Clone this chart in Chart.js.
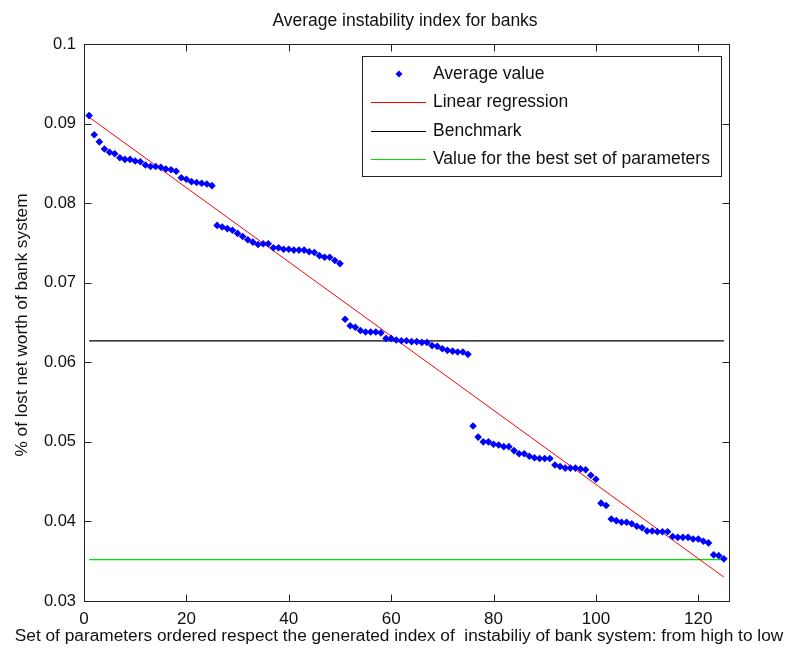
<!DOCTYPE html>
<html>
<head>
<meta charset="utf-8">
<script src="https://cdn.jsdelivr.net/npm/chart.js@4/dist/chart.umd.min.js"></script>
<style>
html,body{margin:0;padding:0;background:#fff;}
#wrap{width:799px;height:661px;position:relative;}
</style>
</head>
<body>
<div id="wrap"><canvas id="c" width="799" height="661"></canvas></div>
<script>
// ---- data ----
const avgValues = [
 0.0910,0.0886,0.0877,0.0868,0.0864,0.0862,0.0857,0.0855,0.0855,0.0853,
 0.0852,0.0848,0.0846,0.0846,0.0845,0.0843,0.0842,0.0840,0.0832,0.0830,
 0.0827,0.0826,0.0825,0.0824,0.0822,
 0.0772,0.0770,0.0768,0.0766,0.0762,0.0758,0.0754,0.0751,0.0748,0.0749,
 0.0749,0.0744,0.0744,0.0742,0.0742,0.0741,0.0741,0.0741,0.0739,0.0738,
 0.0734,0.0732,0.0732,0.0728,0.0724,
 0.0654,0.0646,0.0644,0.0640,0.0638,0.0638,0.0638,0.0637,0.0630,0.0630,
 0.0628,0.0627,0.0627,0.0626,0.0626,0.0625,0.0625,0.0621,0.0620,0.0617,
 0.0615,0.0614,0.0613,0.0613,0.0610,
 0.0520,0.0506,0.0500,0.0500,0.0497,0.0496,0.0494,0.0494,0.0489,0.0485,
 0.0485,0.0482,0.0480,0.0479,0.0479,0.0479,0.0471,0.0469,0.0467,0.0467,
 0.0467,0.0466,0.0465,0.0458,0.0453,
 0.0423,0.0420,0.0403,0.0401,0.0399,0.0399,0.0397,0.0394,0.0392,0.0388,
 0.0388,0.0387,0.0387,0.0387,0.0381,0.0380,0.0380,0.0380,0.0378,0.0378,
 0.0375,0.0373,0.0358,0.0357,0.0353
];
const lineX = [1, 125];
const regressionY = [0.0908, 0.0330];
const benchmarkY = [0.0627, 0.0627];
const bestY = [0.0352, 0.0352];
const xTicks = [0, 20, 40, 60, 80, 100, 120];
const xTickLabels = ["0", "20", "40", "60", "80", "100", "120"];
const yTicks = [0.03, 0.04, 0.05, 0.06, 0.07, 0.08, 0.09, 0.1];
const yTickLabels = ["0.03", "0.04", "0.05", "0.06", "0.07", "0.08", "0.09", "0.1"];
const seriesNames = ["Average value", "Linear regression", "Benchmark", "Value for the best set of parameters"];
const titleText = "Average instability index for banks";
const xTitle = "Set of parameters ordered respect the generated index of  instabiliy of bank system: from high to low";
const yTitle = "% of lost net worth of bank system";

const FONT = "'Liberation Sans', Arial, sans-serif";

const avgPoints = avgValues.map((v, i) => ({x: i + 1, y: v}));
const toPts = ys => lineX.map((x, i) => ({x: x, y: ys[i]}));

const decor = {
  id: 'decor',
  afterDraw(chart) {
    const ctx = chart.ctx;
    const a = chart.chartArea;
    const xs = chart.scales.x, ys = chart.scales.y;
    ctx.save();
    // box
    ctx.strokeStyle = '#222';
    ctx.lineWidth = 1;
    const L = Math.round(a.left) + 0.5, R = Math.round(a.right) + 0.5;
    const T = Math.round(a.top) + 0.5, B = Math.round(a.bottom) + 0.5;
    ctx.strokeRect(L, T, R - L, B - T);
    // inward ticks
    const tl = 7;
    ctx.beginPath();
    xTicks.forEach(v => {
      const px = Math.round(xs.getPixelForValue(v)) + 0.5;
      ctx.moveTo(px, B); ctx.lineTo(px, B - tl);
      ctx.moveTo(px, T); ctx.lineTo(px, T + tl);
    });
    yTicks.forEach(v => {
      const py = Math.round(ys.getPixelForValue(v)) + 0.5;
      ctx.moveTo(L, py); ctx.lineTo(L + tl, py);
      ctx.moveTo(R, py); ctx.lineTo(R - tl, py);
    });
    ctx.stroke();

    // titles
    ctx.fillStyle = '#111';
    ctx.textAlign = 'center';
    ctx.textBaseline = 'middle';
    ctx.font = '17.5px ' + FONT;
    ctx.fillText(titleText, 405, 21);
    ctx.font = '17.3px ' + FONT;
    ctx.fillText(xTitle, 399, 636);
    ctx.save();
    ctx.translate(22, 325);
    ctx.rotate(-Math.PI / 2);
    ctx.fillText(yTitle, 0, 0);
    ctx.restore();

    // legend
    const bx = 362.5, by = 56.5, bw = 359, bh = 120;
    ctx.fillStyle = '#fff';
    ctx.fillRect(bx, by, bw, bh);
    ctx.strokeStyle = '#222';
    ctx.strokeRect(bx, by, bw, bh);
    const rows = [74, 102, 131, 159];
    ctx.textAlign = 'left';
    ctx.font = '17.5px ' + FONT;
    chart.data.datasets.forEach((ds, i) => {
      const yy = rows[i];
      if (i === 0) {
        ctx.fillStyle = ds.backgroundColor;
        ctx.beginPath();
        ctx.moveTo(399, yy - 3.5); ctx.lineTo(402.5, yy); ctx.lineTo(399, yy + 3.5); ctx.lineTo(395.5, yy);
        ctx.closePath(); ctx.fill();
      } else {
        ctx.strokeStyle = ds.borderColor;
        ctx.lineWidth = 1;
        ctx.beginPath();
        ctx.moveTo(371, Math.round(yy) + 0.5); ctx.lineTo(426, Math.round(yy) + 0.5);
        ctx.stroke();
      }
      ctx.fillStyle = '#111';
      ctx.fillText(seriesNames[i], 433, yy);
    });
    ctx.restore();
  }
};

new Chart(document.getElementById('c'), {
  type: 'scatter',
  data: {
    datasets: [
      {label: seriesNames[0], data: avgPoints, backgroundColor: '#0000ff', borderColor: '#0000ff',
       pointStyle: 'rectRot', pointRadius: 3.8, pointBorderWidth: 0, showLine: false},
      {label: seriesNames[1], data: toPts(regressionY), borderColor: '#ff0000', backgroundColor: '#ff0000',
       showLine: true, pointRadius: 0, borderWidth: 1},
      {label: seriesNames[2], data: toPts(benchmarkY), borderColor: '#000000', backgroundColor: '#000000',
       showLine: true, pointRadius: 0, borderWidth: 1.2},
      {label: seriesNames[3], data: toPts(bestY), borderColor: '#00e000', backgroundColor: '#00e000',
       showLine: true, pointRadius: 0, borderWidth: 1.2}
    ]
  },
  options: {
    responsive: false,
    animation: false,
    layout: {padding: {top: 44, right: 70, left: 0, bottom: 0}},
    plugins: {legend: {display: false}, title: {display: false}, tooltip: {enabled: false}},
    scales: {
      x: {
        type: 'linear', min: 0, max: 126,
        grid: {display: false, drawTicks: false},
        border: {display: false},
        afterFit(s) { s.height = 60; },
        afterBuildTicks(s) { s.ticks = xTicks.map(v => ({value: v})); },
        ticks: {
          padding: 8, color: '#111', font: {family: FONT, size: 17},
          maxRotation: 0, autoSkip: false,
          callback: (v) => xTickLabels[xTicks.indexOf(v)]
        }
      },
      y: {
        type: 'linear', min: 0.03, max: 0.1,
        grid: {display: false, drawTicks: false},
        border: {display: false},
        afterFit(s) { s.width = 84; },
        afterBuildTicks(s) { s.ticks = yTicks.map(v => ({value: v})); },
        ticks: {
          padding: 8, color: '#111', font: {family: FONT, size: 16.5}, autoSkip: false,
          callback: (v) => yTickLabels[yTicks.findIndex(t => Math.abs(t - v) < 1e-9)]
        }
      }
    }
  },
  plugins: [decor]
});
</script>
</body>
</html>
